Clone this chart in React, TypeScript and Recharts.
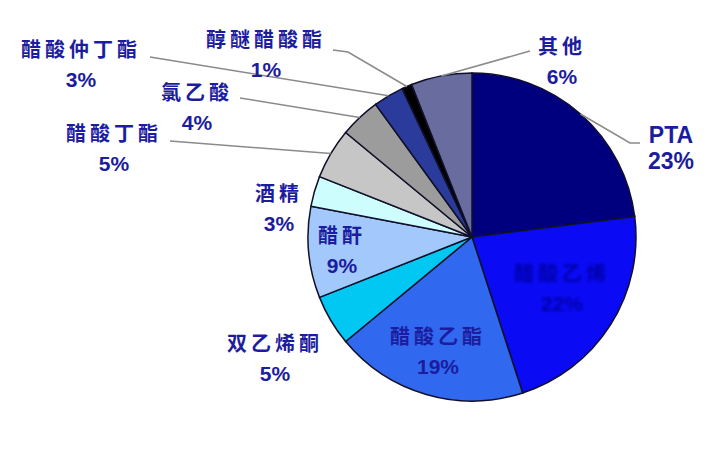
import { PieChart, Pie, Cell } from 'recharts'

const names = ['PTA', '醋酸乙烯', '醋酸乙酯', '双乙烯酮', '醋酐', '酒精', '醋酸丁酯', '氯乙酸', '醋酸仲丁酯', '醇醚醋酸酯', '其他']
const shares = [23, 22, 19, 5, 9, 3, 5, 4, 3, 1, 6]
const colors = ['#00007e', '#0a0af5', '#3068f0', '#00c8f2', '#a2c8fc', '#cdfdfd', '#c6c6c6', '#9c9c9c', '#2b3b9b', '#000000', '#686c9e']

const data = names.map((name, i) => ({ name, value: shares[i] }))

// label centres, relative to the pie centre
const labelPos: [number, number][] = [
  [199, -102], [90, 35], [-34, 98], [-197, 105], [-130, -3], [-193, -45],
  [-358, -105], [-275, -146], [-391, -189], [-206, -199], [90, -192],
]
// leader line points near the label (relative to centre); null = no line
const leaders: ([number, number][] | null)[] = [
  [[158, -94], [168, -94]], null, null, null, null, null,
  [[-302, -96]], [[-232, -139]], [[-322, -180]], [[-124, -185], [-139, -187]], [[58, -186]],
]

const RAD = Math.PI / 180
const textColor = '#1c1c9e'

const renderLabel = (props: any) => {
  const { cx, cy, midAngle, outerRadius, index, name, value } = props
  const [dx, dy] = labelPos[index]
  const x = cx + dx
  const y = cy + dy
  const big = name === 'PTA'
  const hidden = index === 1
  const ex = cx + outerRadius * Math.cos(-midAngle * RAD)
  const ey = cy + outerRadius * Math.sin(-midAngle * RAD)
  const pts = leaders[index]
  const path = pts
    ? `M${ex},${ey}` + pts.map(([px, py]) => ` L${cx + px},${cy + py}`).join('')
    : null
  return (
    <g>
      <defs>
        <filter id="soft" x="-20%" y="-20%" width="140%" height="140%">
          <feGaussianBlur stdDeviation="1.6" />
        </filter>
      </defs>
      {path && <path d={path} stroke="#8a8a8a" strokeWidth={1.5} fill="none" />}
      <g filter={hidden ? 'url(#soft)' : undefined} fill={hidden ? '#0000a8' : textColor}>
        <text
          x={x}
          y={y}
          textAnchor="middle"
          dominantBaseline="central"
          fontFamily={big ? 'Liberation Sans, Arial, sans-serif' : '"Noto Sans CJK SC", sans-serif'}
          fontWeight={700}
          fontSize={big ? 23 : 20}
          letterSpacing={big ? 0 : 4}
        >
          {name}
        </text>
        <text
          x={x}
          y={y + (big ? 26 : 31)}
          textAnchor="middle"
          dominantBaseline="central"
          fontFamily="Liberation Sans, Arial, sans-serif"
          fontWeight={700}
          fontSize={big ? 23 : 21}
        >
          {value}%
        </text>
      </g>
    </g>
  )
}

export default function App() {
  return (
    <div style={{ position: 'absolute', left: 0, top: 0, width: 714, height: 464, background: '#fff' }}>
      <PieChart width={714} height={464} margin={{ top: 0, right: 0, bottom: 0, left: 0 }}>
        <Pie
          data={data}
          dataKey="value"
          nameKey="name"
          cx={472}
          cy={237}
          outerRadius={164}
          startAngle={90}
          endAngle={-270}
          stroke="#10102a"
          strokeWidth={1.5}
          label={renderLabel}
          labelLine={false}
          isAnimationActive={false}
        >
          {data.map((d, i) => (
            <Cell key={d.name} fill={colors[i]} />
          ))}
        </Pie>
      </PieChart>
    </div>
  )
}
